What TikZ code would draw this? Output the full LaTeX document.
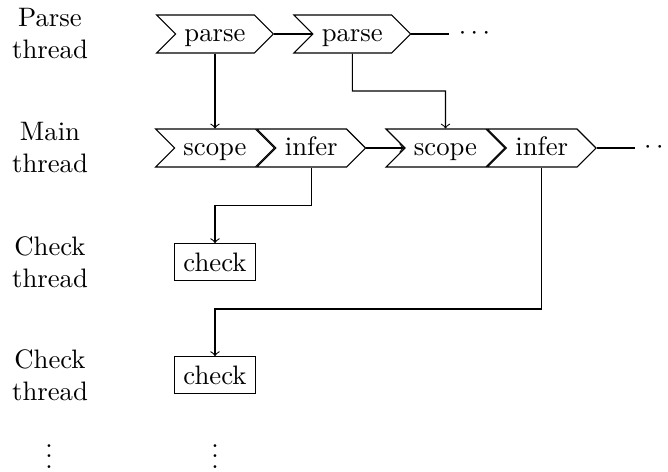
\documentclass[tikz,border=0pt]{standalone}
\usetikzlibrary{shapes.symbols,positioning,calc}
\begin{document}
\begin{tikzpicture}[x=0.3745pt,y=-0.3745pt,
  sig/.style={signal, signal from=west, signal to=east, draw, text height=1.5ex, text depth=.25ex},
  chk/.style={draw, rectangle},
  lbl/.style={align=center},
  conn/.style={->},
  plain/.style={-}]
\useasboundingbox (0,0) rectangle (668,471);
% labels
\node[lbl] (lp) at (50,34) {Parse\\thread};
\node[lbl] (lm) at (50,148) {Main\\thread};
\node[lbl] (lc1) at (50,262) {Check\\thread};
\node[lbl] (lc2) at (50,375) {Check\\thread};
% parse row
\node[sig] (parse1) at (215,34) {parse};
\node[sig, right=5mm of parse1] (parse2) {parse};
\coordinate (pe) at ([xshift=5mm]parse2.east);
\node[anchor=west] (pdots) at (pe) {$\cdots$};
% main row
\node[sig] (scope1) at (215,148) {scope};
\node[sig, right=0pt of scope1] (infer1) {infer};
\node[sig, right=5mm of infer1] (scope2) {scope};
\node[sig, right=0pt of scope2] (infer2) {infer};
\coordinate (me) at ([xshift=5mm]infer2.east);
\node[anchor=west] (mdots) at (me) {$\cdots$};
% check boxes
\node[chk] (check1) at (215,262) {check};
\node[chk] (check2) at (215,375) {check};
% vdots
\node[anchor=base] (vd1) at (49,468.4) {$\vdots$};
\node[anchor=base] (vd2) at (215,468.4) {$\vdots$};
% connectors
\draw[plain] (parse1.east) -- (parse2.west);
\draw[plain] (parse2.east) -- (pdots.west);
\draw[conn] (parse1.south) -- (parse1.south |- scope1.north);
\coordinate (t1) at ($(parse2.south)!.5!(parse2.south |- scope2.north)$);
\draw[conn] (parse2.south) -- (t1) -| (scope2.north);
\draw[conn] (infer1.east) -- (scope2.west);
\draw[plain] (infer2.east) -- (mdots.west);
\coordinate (t2) at ($(infer1.south)!.5!(infer1.south |- check1.north)$);
\draw[conn] (infer1.south) -- (t2) -| (check1.north);
\coordinate (t3y) at (0,309);
\draw[conn] (infer2.south) -- (infer2.south |- t3y) -| (check2.north);
\end{tikzpicture}
\end{document}
